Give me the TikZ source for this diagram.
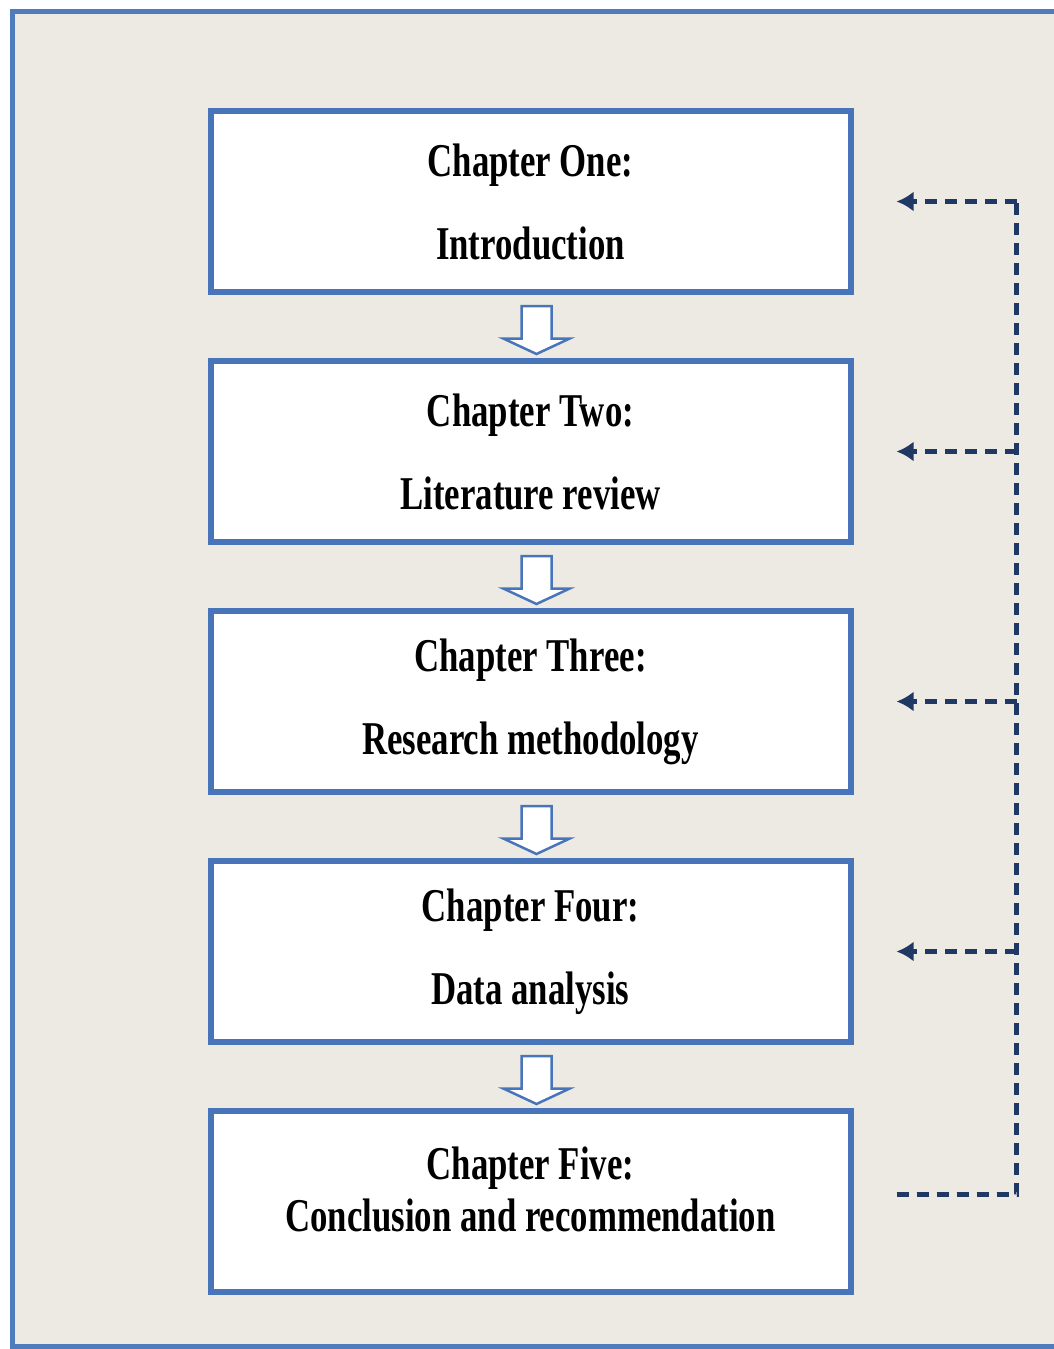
\documentclass[tikz,border=0pt]{standalone}
\usepackage{fontspec}
\newfontfamily\chapfont[FakeStretch=0.74]{Liberation Serif}
\usetikzlibrary{shapes.arrows,arrows.meta,positioning}
\definecolor{frameblue}{RGB}{80,124,190}
\definecolor{boxblue}{RGB}{72,117,186}
\definecolor{paper}{RGB}{237,234,227}
\definecolor{navy}{RGB}{31,56,100}

\begin{document}
\begin{tikzpicture}[
            x=1pt,y=1pt,
            every node/.style={on grid},
            chap/.style={draw=boxblue,line width=6pt,fill=white,
                minimum width=640pt,minimum height=181pt,align=center,
                font=\chapfont\bfseries\fontsize{47}{83}\selectfont},
            flow/.style={single arrow,shape border rotate=270,draw=boxblue,
                line width=2.5pt,fill=white,inner sep=13.75pt,
                minimum height=48pt,single arrow head extend=18pt,
                single arrow tip angle=130},
            fb/.style={draw=navy,line width=4.5pt,dash pattern=on 12pt off 8pt},
            >={Latex[length=17pt,width=20pt]}
        ]

        % Draw page %
        \useasboundingbox[fill=white] (0,0) rectangle (1053,-1349);
        \draw[frameblue,line width=5pt,fill=paper] (12,-11) rectangle (1075,-1346);

        % Draw chapters %
        \node[chap] (c1) at (530.5,-201.5) {Chapter One:\\Introduction};
        \node[chap, below = 250pt of c1] (c2) {Chapter Two:\\Literature review};
        \node[chap, below = 250pt of c2] (c3) {Chapter Three:\\Research methodology};
        \node[chap, below = 250pt of c3] (c4) {Chapter Four:\\Data analysis};
        \node[chap, below = 250pt of c4] (c5) {Chapter Five:\\[-31pt]Conclusion and recommendation\\[-58pt]\mbox{}};

        % Draw flow arrows %
        \foreach \i in {1,...,4}
            \node[flow, below = 125pt of c\i, xshift=6pt] (a\i) {};

        % Draw feedback %
        \foreach \i in {1,...,5} {
            \coordinate (k\i) at ([xshift=163pt]c\i.east);
            \coordinate (t\i) at ([xshift=43pt]c\i.east);
        }
        \draw[fb] ([yshift=7pt]t5) -| (k1);
        \foreach \i in {1,...,4}
            \draw[fb,->] (k\i) -- (t\i);
        \end{tikzpicture}
\end{document}
